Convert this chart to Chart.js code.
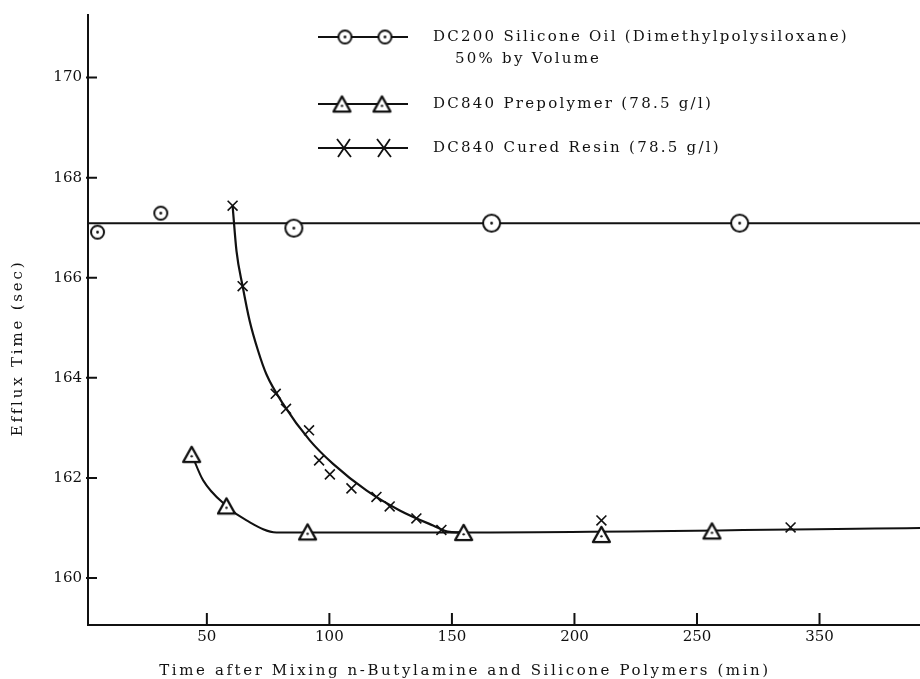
<!DOCTYPE html>
<html>
<head>
<meta charset="utf-8">
<script src="https://cdn.jsdelivr.net/npm/chart.js@4.4.1/dist/chart.umd.min.js"></script>
<style>
  html, body { margin: 0; padding: 0; background: #fff; overflow: hidden; }
  #wrap { width: 920px; height: 679px; position: relative; }
  canvas { display: block; }
</style>
</head>
<body>
<div id="wrap"><canvas id="effluxChart"></canvas></div>
<script>
// DC200 silicone oil readings (circles) and its flat fit line
const oilTimes = [5.4, 31.2, 85.5, 166.2, 267.4];
const oilEfflux = [166.91, 167.29, 166.99, 167.09, 167.09];
const oilFitTimes = [1.5, 341];
const oilFitEfflux = [167.09, 167.09];

// DC840 prepolymer readings (triangles) and hand drawn curve
const preTimes = [43.8, 58.0, 91.1, 154.8, 211.0, 256.1];
const preEfflux = [162.47, 161.44, 160.92, 160.91, 160.87, 160.94];
const preCurveTimes = [43.8, 48.5, 58.0, 66.2, 78.4, 154.8, 341];
const preCurveEfflux = [162.47, 161.95, 161.44, 161.15, 160.91, 160.91, 161.0];

// DC840 cured resin readings (crosses) and hand drawn curve
const resinTimes = [60.5, 64.6, 78.1, 82.3, 91.7, 95.8, 100.2, 109.0, 119.2, 124.6, 135.5, 145.7, 211.0, 288.2];
const resinEfflux = [167.44, 165.83, 163.68, 163.38, 162.95, 162.35, 162.07, 161.79, 161.62, 161.43, 161.19, 160.96, 161.15, 161.01];
const resinCurveTimes = [60.5, 62.1, 64.6, 67.5, 70.9, 74.3, 81.1, 92.0, 101.5, 115.1, 128.7, 142.3, 149.1, 154.8];
const resinCurveEfflux = [167.44, 166.53, 165.83, 165.13, 164.54, 164.07, 163.48, 162.75, 162.28, 161.75, 161.35, 161.05, 160.92, 160.91];

// Axis ticks (the original sheet labels its last tick 350)
const xTickValues = [50, 100, 150, 200, 250, 300];
const xTickLabels = ['50', '100', '150', '200', '250', '350'];
const yTickValues = [160, 162, 164, 166, 168, 170];

const legendLabels = [
    'DC200 Silicone Oil (Dimethylpolysiloxane)',
    '50% by Volume',
    'DC840 Prepolymer (78.5 g/l)',
    'DC840 Cured Resin (78.5 g/l)'
];
const xTitle = 'Time after Mixing n-Butylamine and Silicone Polymers (min)';
const yTitle = 'Efflux Time (sec)';

const INK = '#111';
const SERIF = '"DejaVu Serif", "Liberation Serif", serif';

const toPoints = (xs, ys) => xs.map((x, i) => ({ x: x, y: ys[i] }));

// Marker images
function circleMark(r) {
    const s = Math.ceil(r * 2 + 4);
    const c = document.createElement('canvas');
    c.width = c.height = s;
    const g = c.getContext('2d');
    g.fillStyle = '#fff';
    g.strokeStyle = INK;
    g.lineWidth = 2;
    g.beginPath();
    g.arc(s / 2, s / 2, r, 0, Math.PI * 2);
    g.fill();
    g.stroke();
    g.fillStyle = INK;
    g.beginPath();
    g.arc(s / 2, s / 2, 1.4, 0, Math.PI * 2);
    g.fill();
    return c;
}

function triangleMark(w) {
    const s = Math.ceil(w + 4);
    const c = document.createElement('canvas');
    c.width = c.height = s;
    const g = c.getContext('2d');
    const h = w * 0.9;
    const top = (s - h) / 2;
    g.fillStyle = '#fff';
    g.strokeStyle = INK;
    g.lineWidth = 2.2;
    g.lineJoin = 'round';
    g.beginPath();
    g.moveTo(s / 2, top);
    g.lineTo(s / 2 + w / 2, top + h);
    g.lineTo(s / 2 - w / 2, top + h);
    g.closePath();
    g.fill();
    g.stroke();
    g.fillStyle = INK;
    g.beginPath();
    g.arc(s / 2, top + h * 0.62, 1.2, 0, Math.PI * 2);
    g.fill();
    return c;
}

const smallCircle = circleMark(6.5);
const bigCircle = circleMark(8.5);
const triangle = triangleMark(17);

// Inner tick marks, spaced-out typewriter titles and the key
const inkPlugin = {
    id: 'ink',
    afterDraw(chart) {
        const { ctx, chartArea } = chart;
        const x = chart.scales.x;
        const y = chart.scales.y;
        ctx.save();
        ctx.strokeStyle = INK;
        ctx.lineWidth = 2;
        ctx.beginPath();
        x.ticks.forEach(t => {
            const px = x.getPixelForValue(t.value);
            ctx.moveTo(px, chartArea.bottom);
            ctx.lineTo(px, chartArea.bottom - 12);
        });
        y.ticks.forEach(t => {
            const py = y.getPixelForValue(t.value);
            ctx.moveTo(chartArea.left - 2, py);
            ctx.lineTo(chartArea.left + 9, py);
        });
        ctx.stroke();

        // key samples
        const rows = [37, 104, 148];
        rows.forEach(ry => {
            ctx.beginPath();
            ctx.moveTo(318, ry);
            ctx.lineTo(408, ry);
            ctx.stroke();
        });
        [345, 385].forEach(cx => {
            ctx.drawImage(smallCircle, cx - smallCircle.width / 2, rows[0] - smallCircle.height / 2);
            ctx.drawImage(triangle, cx - 3 - triangle.width / 2, rows[1] - triangle.height / 2);
            ctx.lineWidth = 1.8;
            ctx.beginPath();
            ctx.moveTo(cx - 8, rows[2] - 9);
            ctx.lineTo(cx + 6, rows[2] + 9);
            ctx.moveTo(cx + 5, rows[2] - 9);
            ctx.lineTo(cx - 7, rows[2] + 9);
            ctx.stroke();
        });

        ctx.fillStyle = INK;
        ctx.font = '15px ' + SERIF;
        ctx.letterSpacing = '2.25px';
        ctx.textBaseline = 'middle';
        ctx.textAlign = 'left';
        ctx.fillText(legendLabels[0], 433, rows[0]);
        ctx.fillText(legendLabels[1], 455, 59);
        ctx.fillText(legendLabels[2], 433, rows[1]);
        ctx.fillText(legendLabels[3], 433, rows[2]);

        // axis titles
        ctx.letterSpacing = '2.6px';
        ctx.textAlign = 'center';
        ctx.fillText(xTitle, 465, 671);
        ctx.translate(18, 348);
        ctx.rotate(-Math.PI / 2);
        ctx.letterSpacing = '2.8px';
        ctx.fillText(yTitle, 0, 0);
        ctx.restore();
    }
};

const ctx = document.getElementById('effluxChart').getContext('2d');

new Chart(ctx, {
    type: 'scatter',
    data: {
        datasets: [
            {
                label: 'DC200 Silicone Oil',
                data: toPoints(oilTimes, oilEfflux),
                pointStyle: c => (c.dataIndex < 2 ? smallCircle : bigCircle),
                showLine: false
            },
            {
                label: 'DC840 Prepolymer',
                data: toPoints(preTimes, preEfflux),
                pointStyle: triangle,
                showLine: false
            },
            {
                label: 'DC840 Cured Resin',
                data: toPoints(resinTimes, resinEfflux),
                pointStyle: 'crossRot',
                pointRadius: 7,
                borderColor: INK,
                borderWidth: 1.6,
                showLine: false
            },
            {
                label: 'oil fit',
                data: toPoints(oilFitTimes, oilFitEfflux),
                showLine: true,
                pointRadius: 0,
                borderColor: INK,
                borderWidth: 2
            },
            {
                label: 'prepolymer curve',
                data: toPoints(preCurveTimes, preCurveEfflux),
                showLine: true,
                pointRadius: 0,
                borderColor: INK,
                borderWidth: 2,
                cubicInterpolationMode: 'monotone'
            },
            {
                label: 'resin curve',
                data: toPoints(resinCurveTimes, resinCurveEfflux),
                showLine: true,
                pointRadius: 0,
                borderColor: INK,
                borderWidth: 2.2,
                cubicInterpolationMode: 'monotone'
            }
        ]
    },
    options: {
        responsive: true,
        maintainAspectRatio: false,
        animation: false,
        layout: { autoPadding: false, padding: { top: 13, right: 0, left: 0, bottom: 0 } },
        plugins: {
            legend: { display: false },
            tooltip: { enabled: false }
        },
        scales: {
            x: {
                type: 'linear',
                min: 1.5,
                max: 341,
                afterBuildTicks: s => { s.ticks = xTickValues.map(v => ({ value: v })); },
                afterFit: s => {
                    s.height = 54;
                    s.paddingLeft = 0;
                    s.paddingRight = 0;
                },
                ticks: {
                    color: INK,
                    padding: 3,
                    font: { family: SERIF, size: 15 },
                    callback: v => xTickLabels[xTickValues.indexOf(v)]
                },
                grid: { display: false, drawTicks: false },
                border: { display: true, color: INK, width: 2 }
            },
            y: {
                min: 159.06,
                max: 171.25,
                afterBuildTicks: s => { s.ticks = yTickValues.map(v => ({ value: v })); },
                afterFit: s => { s.width = 88; },
                ticks: {
                    color: INK,
                    padding: 6,
                    font: { family: SERIF, size: 15 }
                },
                grid: { display: false, drawTicks: false },
                border: { display: true, color: INK, width: 2 }
            }
        }
    },
    plugins: [inkPlugin]
});
</script>
</body>
</html>
